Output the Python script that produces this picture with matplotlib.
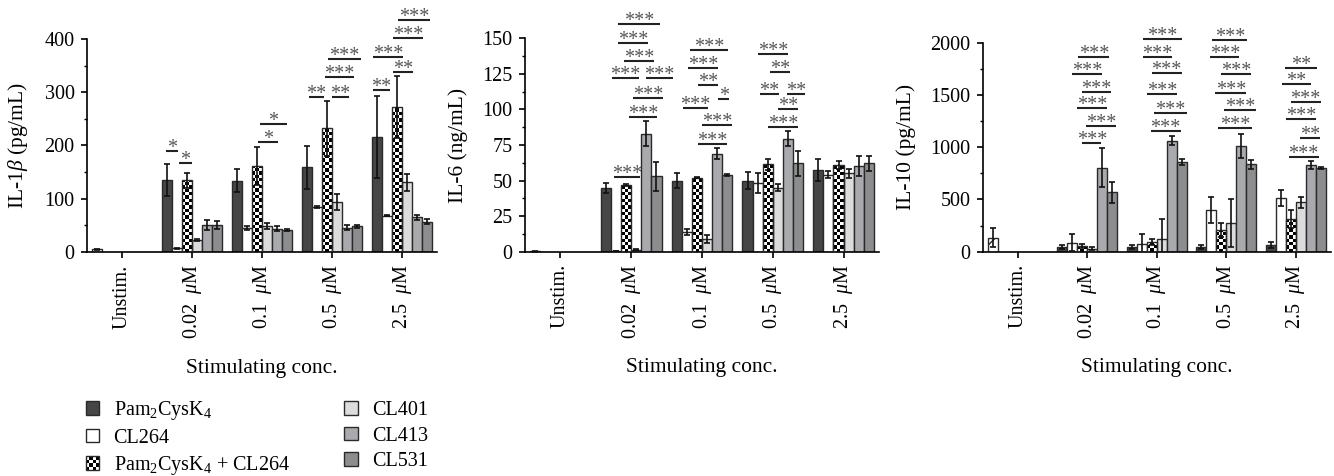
import numpy as np
import matplotlib
matplotlib.use("Agg")
import matplotlib.pyplot as plt
from matplotlib import rcParams, transforms
from matplotlib.patches import Rectangle, Patch
from matplotlib.legend_handler import HandlerBase
from matplotlib.ticker import MultipleLocator

rcParams.update({"font.family": "serif", "font.serif": ["Liberation Serif", "DejaVu Serif"],
                 "font.size": 14.5, "mathtext.fontset": "custom",
                 "mathtext.rm": "Liberation Serif", "mathtext.it": "Liberation Serif:italic",
                 "mathtext.bf": "Liberation Serif:bold", "axes.linewidth": 1.2})

conc = ["Unstim.", "0.02  $\\mu$M", "0.1  $\\mu$M", "0.5  $\\mu$M", "2.5  $\\mu$M"]
series = ["Pam$_2$CysK$_4$", "CL264", "Pam$_2$CysK$_4$ + CL264", "CL401", "CL413", "CL531"]

# rows = series, cols = 0.02, 0.1, 0.5, 2.5 uM
il1b = [[135, 134, 159, 216], [7, 45, 85, 68], [135, 162, 232, 273],
        [22, 49, 93, 131], [51, 44, 46, 65], [51, 41, 48, 57]]
il1b_err = [[30, 21, 40, 77], [1, 4, 2, 1], [14, 36, 52, 58],
            [2, 6, 15, 16], [9, 5, 5, 4], [7, 2, 3, 5]]
il6 = [[45, 50, 50, 57.5], [0.5, 14, 48, 54], [47, 52, 61.5, 61],
       [1.5, 9, 45, 55], [83, 69, 79.5, 60], [53, 54, 62, 62]]
il6_err = [[3.5, 5, 6, 8], [0.2, 2, 7, 2.5], [0.5, 0.5, 4, 3],
           [0.5, 3, 2.5, 3], [9, 4, 5, 7], [10, 0.5, 9, 5]]
il10 = [[45, 45, 45, 64], [86, 75, 399, 514], [55, 96, 208, 313],
        [30, 122, 272, 472], [804, 1062, 1015, 830], [570, 855, 836, 804]]
il10_err = [[15, 15, 20, 25], [80, 95, 125, 80], [15, 30, 70, 90],
            [15, 190, 230, 50], [185, 45, 115, 35], [100, 30, 40, 10]]
# unstimulated control (hatched bar)
unstim = [5, 0.3, 135]
unstim_err = [1, 0.2, 90]

# significance brackets: (group, from bar, to bar, height, label)
sig_il1b = [(1, -0.1, 1.1, 190, "*"), (1, 1.2, 2.5, 167, "*"),
            (2, 2.1, 4.1, 207, "*"), (2, 2.3, 5.0, 240, "*"),
            (3, 0.2, 1.7, 291, "**"), (3, 2.5, 4.2, 291, "**"), (3, 1.8, 4.7, 329, "***"),
            (3, 2.1, 5.4, 362, "***"),
            (4, -0.4, 1.3, 304, "**"), (4, 1.6, 3.6, 338, "**"), (4, -0.4, 2.6, 366, "***"),
            (4, 1.6, 4.6, 402, "***"), (4, 2.1, 5.3, 436, "***")]
sig_il6 = [(1, 0.8, 3.4, 52.6, "***"), (1, 2.3, 5.1, 95, "***"), (1, 2.7, 5.6, 108, "***"),
           (1, 0.6, 3.3, 122, "***"), (1, 4.0, 6.6, 122, "***"), (1, 1.8, 4.8, 134, "***"),
           (1, 1.2, 4.2, 147, "***"), (1, 1.2, 5.3, 160, "***"),
           (2, 2.1, 5.0, 76, "***"), (2, 2.5, 5.5, 89, "***"), (2, 0.6, 3.1, 101, "***"),
           (2, 4.1, 5.2, 107, "*"), (2, 2.1, 4.1, 117, "**"), (2, 1.1, 4.1, 129, "***"),
           (2, 1.3, 5.1, 142, "***"),
           (3, 2.0, 5.0, 88, "***"), (3, 3.0, 5.0, 100, "**"), (3, 1.2, 3.1, 111, "**"),
           (3, 3.9, 5.7, 111, "**"), (3, 2.2, 4.2, 126, "**"), (3, 1.0, 4.0, 139, "***")]
sig_il10 = [(1, 2.0, 3.9, 1037, "***"), (1, 2.4, 5.4, 1203, "***"), (1, 1.5, 4.5, 1372, "***"),
            (1, 2.0, 4.9, 1531, "***"), (1, 1.0, 4.0, 1700, "***"), (1, 1.6, 4.7, 1866, "***"),
            (2, 1.9, 4.9, 1155, "***"), (2, 2.2, 5.5, 1324, "***"), (2, 1.5, 4.5, 1506, "***"),
            (2, 2.0, 5.0, 1707, "***"), (2, 1.1, 4.0, 1866, "***"), (2, 1.1, 5.0, 2035, "***"),
            (3, 1.7, 5.1, 1181, "***"), (3, 2.3, 5.5, 1356, "***"), (3, 1.4, 4.5, 1522, "***"),
            (3, 2.0, 5.0, 1700, "***"), (3, 0.9, 3.8, 1866, "***"), (3, 1.1, 4.6, 2026, "***"),
            (4, 1.8, 4.8, 909, "***"), (4, 2.9, 4.9, 1091, "**"), (4, 1.5, 4.5, 1270, "***"),
            (4, 2.0, 5.0, 1435, "***"), (4, 1.1, 4.0, 1602, "**"), (4, 1.4, 4.6, 1761, "**")]

COLORS = ["#464646", "white", "white", "#dcdcdc", "#a9aaae", "#8d8d90"]
EDGE = "#2a2a2a"
W = 1 / 7
CELL = 3.33  # checker cell size in pixels

W_PX, H_PX = 1334, 476
fig = plt.figure(figsize=(W_PX / 100, H_PX / 100), dpi=100)

panels = [
    (il1b, il1b_err, unstim[0], unstim_err[0], sig_il1b, "IL-1$\\beta$ (pg/mL)", 400, 100, 50,
     [87, 252, 350, 213]),
    (il6, il6_err, unstim[1], unstim_err[1], sig_il6, "IL-6 (ng/mL)", 150, 25, 12.5,
     [525, 251.7, 354, 213.4]),
    (il10, il10_err, unstim[2], unstim_err[2], sig_il10, "IL-10 (pg/mL)", 2000, 500, 250,
     [983, 251.7, 347.5, 209]),
]

for vals, errs, u, ue, sigs, ylab, ymax, major, minor, (lx, by, wd, ht) in panels:
    ax = fig.add_axes([lx / W_PX, 1 - by / H_PX, wd / W_PX, ht / H_PX])
    # unstimulated bar
    ax.bar(0 - 2.5 * W, u, W, color="white", edgecolor=EDGE, lw=1, hatch="/", zorder=2)
    ax.errorbar(0 - 2.5 * W, u, yerr=ue, fmt="none", ecolor="#111", elinewidth=1.2,
                capsize=2.5, capthick=1.2, zorder=4)
    groups = np.arange(1, 5)
    cell_y = CELL / ht * ymax
    for k in range(6):
        x = groups + (k - 2.5) * W
        if k == 2:
            bars = ax.bar(x, vals[k], W, color="none", edgecolor=EDGE, lw=1, zorder=3)
            for b in bars:
                nrow = max(int(np.ceil(b.get_height() / cell_y)), 1)
                img = np.indices((nrow, 3)).sum(0) % 2
                im = ax.imshow(img, cmap="gray_r", vmin=0, vmax=1, origin="lower",
                               interpolation="nearest", aspect="auto", zorder=2,
                               extent=(b.get_x(), b.get_x() + b.get_width(), 0, nrow * cell_y))
                im.set_clip_path(b)
        else:
            ax.bar(x, vals[k], W, color=COLORS[k], edgecolor=EDGE, lw=1, zorder=2)
        ax.errorbar(x, vals[k], yerr=errs[k], fmt="none", ecolor="#111", elinewidth=1.2,
                    capsize=2.5, capthick=1.2, zorder=4)
    # significance brackets
    toff = transforms.offset_copy(ax.transData, fig=fig, y=-2, units="dots")
    for g, f0, f1, lvl, lab in sigs:
        x0 = g + (f0 - 2.5) * W
        x1 = g + (f1 - 2.5) * W
        ax.plot([x0, x1], [lvl, lvl], color="#222", lw=1.5, clip_on=False,
                solid_capstyle="butt", zorder=5)
        ax.text((x0 + x1) / 2, lvl, lab, ha="center", va="baseline", color="#555",
                fontsize=14.5, transform=toff, clip_on=False)

    ax.set_xlim(-0.5, 4.5)
    ax.set_ylim(0, ymax)
    ax.set_xticks(range(5))
    ax.set_xticklabels(conc, rotation=90)
    ax.yaxis.set_major_locator(MultipleLocator(major))
    ax.yaxis.set_minor_locator(MultipleLocator(minor))
    ax.tick_params(direction="out", length=4, width=1.2, pad=5, labelsize=14.5)
    ax.tick_params(which="minor", direction="out", length=2.5, width=1)
    for s in ("top", "right"):
        ax.spines[s].set_visible(False)
    ax.set_ylabel(ylab, labelpad=10, fontsize=15.5)
    ax.set_xlabel("Stimulating conc.", labelpad=14, fontsize=15.5)


class CheckerHandler(HandlerBase):
    def create_artists(self, legend, orig, xd, yd, width, height, fontsize, trans):
        n = 4
        cw, ch = width / n, height / n
        arts = []
        for i in range(n):
            for j in range(n):
                if (i + j) % 2 == 0:
                    arts.append(Rectangle((-xd + i * cw, -yd + j * ch), cw, ch,
                                          facecolor="black", edgecolor="none", transform=trans))
        arts.append(Rectangle((-xd, -yd), width, height, facecolor="none",
                              edgecolor=EDGE, lw=1, transform=trans))
        return arts


handles = [Patch(facecolor=c, edgecolor=EDGE, lw=1) for c in COLORS]
fig.legend(handles, series, ncol=2, loc="upper left", bbox_to_anchor=(86 / W_PX, 1 - 399 / H_PX),
           frameon=False, borderpad=0, borderaxespad=0, handlelength=0.67, handleheight=0.67,
           handletextpad=0.7, labelspacing=0.33, columnspacing=2.7, fontsize=14.5,
           handler_map={handles[2]: CheckerHandler()})

fig.savefig("out.png", dpi=100)
